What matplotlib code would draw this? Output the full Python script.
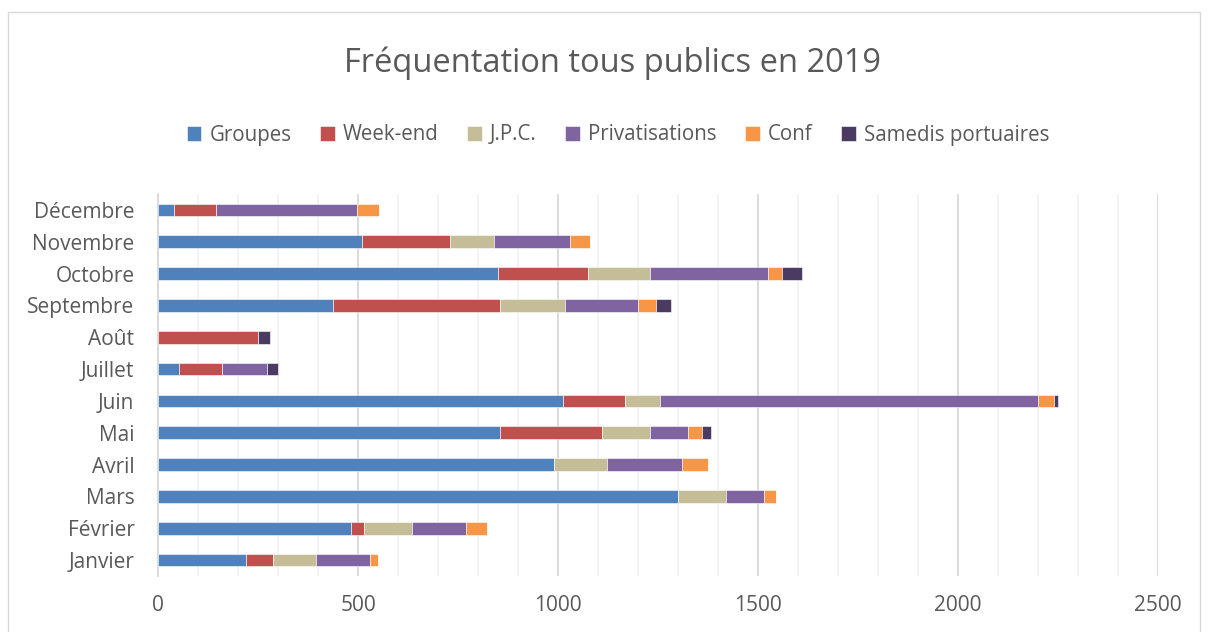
# Fréquentation tous publics en 2019 - barres horizontales empilées
import matplotlib.pyplot as plt
from matplotlib.patches import Rectangle

plt.rcParams['font.family'] = ['Open Sans', 'DejaVu Sans']

# Données
mois = ['Janvier', 'Février', 'Mars', 'Avril', 'Mai', 'Juin',
        'Juillet', 'Août', 'Septembre', 'Octobre', 'Novembre', 'Décembre']
groupes = [220, 483, 1301, 990, 855, 1012, 52, 0, 437, 850, 510, 41]
week_end = [67, 33, 0, 0, 255, 155, 109, 251, 417, 224, 221, 104]
jpc = [109, 119, 120, 132, 119, 87, 0, 0, 164, 157, 108, 0]
privatisations = [135, 136, 95, 188, 95, 945, 112, 0, 181, 293, 192, 352]
conf = [20, 52, 29, 64, 35, 40, 0, 0, 45, 35, 49, 55]
samedis = [0, 0, 0, 0, 23, 12, 27, 30, 38, 52, 0, 0]

series = [
    ('Groupes', groupes, '#4F81BD'),
    ('Week-end', week_end, '#C0504D'),
    ('J.P.C.', jpc, '#C4BD97'),
    ('Privatisations', privatisations, '#8064A2'),
    ('Conf', conf, '#F79646'),
    ('Samedis portuaires', samedis, '#4B3B62'),
]

text_color = '#595959'

fig = plt.figure(figsize=(12.08, 6.32), dpi=100)
ax = fig.add_axes([158 / 1208, 56 / 632, 1000 / 1208, 382 / 632])

y = list(range(len(mois)))
left = [0] * len(mois)
handles = []
for name, values, color in series:
    b = ax.barh(y, values, left=left, height=0.4, color=color,
                edgecolor='white', linewidth=0.4, label=name, zorder=3)
    handles.append(b)
    left = [l + v for l, v in zip(left, values)]

ax.set_xlim(0, 2500)
ax.set_ylim(-0.5, len(mois) - 0.5)
ax.set_yticks(y)
ax.set_yticklabels(mois)
ax.set_xticks(range(0, 2501, 500))
ax.set_xticks(range(0, 2501, 100), minor=True)
ax.grid(axis='x', which='major', color='#D9D9D9', linewidth=1.3, zorder=0)
ax.grid(axis='x', which='minor', color='#F2F2F2', linewidth=1.3, zorder=0)
ax.tick_params(axis='x', which='both', length=0, pad=14, labelsize=15,
               labelcolor=text_color)
ax.tick_params(axis='y', length=0, pad=17, labelsize=15,
               labelcolor=text_color)
for side in ['top', 'right', 'bottom']:
    ax.spines[side].set_visible(False)
ax.spines['left'].set_color('#D9D9D9')
ax.spines['left'].set_linewidth(1.3)

fig.text(613 / 1208, 1 - 63 / 632, 'Fréquentation tous publics en 2019',
         ha='center', va='center', fontsize=23.5, color=text_color)

fig.legend(handles=handles, loc='center',
           bbox_to_anchor=(618 / 1208, 1 - 135 / 632),
           ncol=6, frameon=False, fontsize=14.8, labelcolor=text_color,
           handlelength=0.7, handleheight=0.7, handletextpad=0.4,
           columnspacing=1.4)

# cadre du graphique
fig.patches.append(Rectangle((8 / 1208, -0.05), 1192 / 1208, 1.05 - 12 / 632,
                             transform=fig.transFigure, fill=False,
                             edgecolor='#D9D9D9', linewidth=1))

fig.savefig('out.png', dpi=100)
